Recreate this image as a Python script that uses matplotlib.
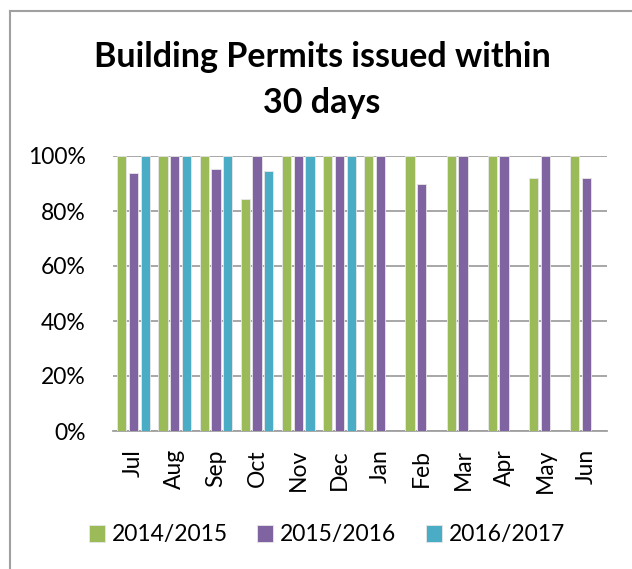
import numpy as np
import matplotlib.pyplot as plt
from matplotlib.ticker import PercentFormatter

months = ['Jul', 'Aug', 'Sep', 'Oct', 'Nov', 'Dec', 'Jan', 'Feb', 'Mar', 'Apr', 'May', 'Jun']
fy1415 = [100, 100, 100, 84.5, 100, 100, 100, 100, 100, 100, 92, 100]
fy1516 = [94, 100, 95.2, 100, 100, 100, 100, 90, 100, 100, 100, 92]
fy1617 = [100, 100, 100, 94.7, 100, 100, 0, 0, 0, 0, 0, 0]
series = ['2014/2015', '2015/2016', '2016/2017']
colors = ['#9BBB59', '#8064A2', '#4BACC6']

plt.rcParams['font.family'] = ['Lato', 'DejaVu Sans']

fig = plt.figure(figsize=(6.32, 5.69), dpi=100)
ax = fig.add_axes([113/632, 1 - 431/569, (607-113)/632, (431-156)/569])

x = np.arange(len(months))
step = 0.285
width = 0.225
for i, (vals, lab, c) in enumerate(zip([fy1415, fy1516, fy1617], series, colors)):
    ax.bar(x + (i - 1) * step, vals, width, color=c, label=lab,
           edgecolor='#e8e8e8', linewidth=0.6, zorder=3)

ax.set_xlim(-0.5, len(months) - 0.5)
ax.set_ylim(0, 100)
ax.set_yticks(range(0, 101, 20))
ax.yaxis.set_major_formatter(PercentFormatter(decimals=0))
ax.set_xticks(x)
ax.set_xticklabels(months, rotation=90, fontsize=16.5)
ax.tick_params(axis='y', labelsize=16.5, length=0, pad=19.5)
ax.tick_params(axis='x', length=0, pad=13)
ax.grid(axis='y', color='#a0a0a0', linewidth=1.3, zorder=0)
for s in ['left', 'right', 'top']:
    ax.spines[s].set_visible(False)
ax.spines['bottom'].set_color('#a0a0a0')
ax.spines['bottom'].set_linewidth(1.3)

fig.text(322/632, 1 - 57/569, 'Building Permits issued within', ha='center', va='center',
         fontsize=24.5, fontweight='bold')
fig.text(322/632, 1 - 103/569, '30 days', ha='center', va='center',
         fontsize=24.5, fontweight='bold')

fig.legend(loc='center', bbox_to_anchor=(327/632, 1 - 535/569), ncol=3, frameon=False,
           fontsize=16.5, handlelength=0.7, handleheight=0.7, handletextpad=0.3,
           columnspacing=1.3)

# chart border (only top and left visible in the crop)
fig.add_artist(plt.Line2D([10/632, 10/632], [0, 1 - 11/569], color='#a0a0a0', linewidth=1.5,
                          transform=fig.transFigure))
fig.add_artist(plt.Line2D([10/632, 1], [1 - 11/569, 1 - 11/569], color='#a0a0a0', linewidth=1.5,
                          transform=fig.transFigure))

fig.savefig('out.png', dpi=100)
